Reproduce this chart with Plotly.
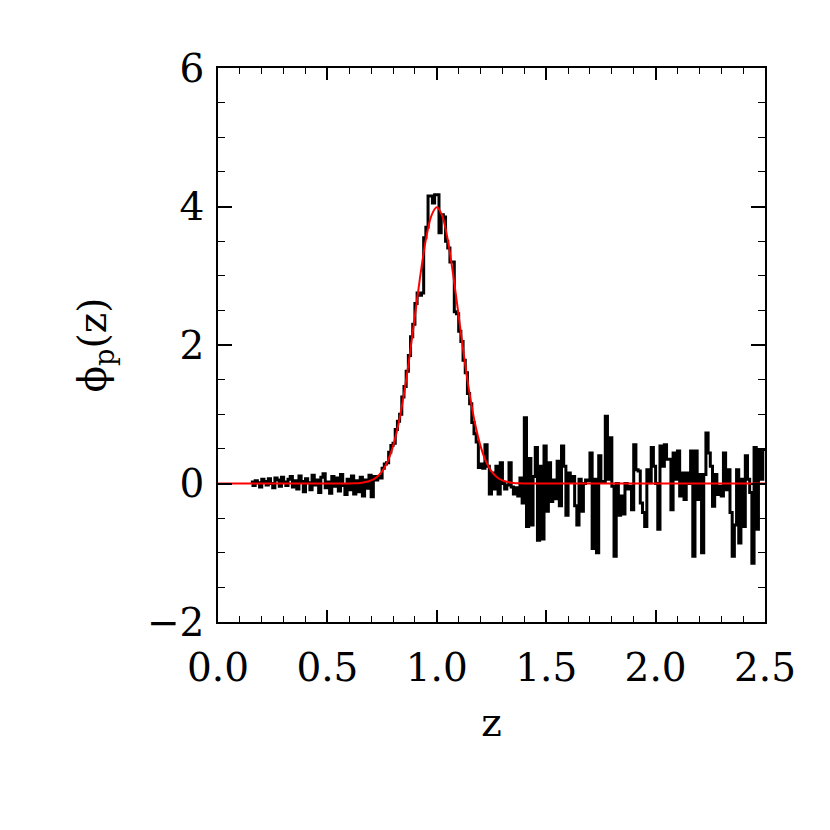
import numpy as np
import plotly.graph_objects as go

# histogram of phi_p(z): bins of width 0.01 starting at z = 0.15
BIN_START = 0.15
BIN_WIDTH = 0.01

# z = 0.15 ... 0.71 (flat, low-noise part)
phi_low = [
    0.02, -0.03, 0.04, 0.01, -0.05, 0.06, 0.03, -0.02, 0.07, 0.00,
    -0.06, 0.08, 0.05, -0.04, 0.09, 0.02, -0.03, 0.06, 0.10, -0.05,
    0.04, -0.08, 0.11, 0.03, -0.12, 0.07, 0.01, -0.09, 0.12, -0.02,
    0.05, -0.13, 0.09, 0.14, -0.06, 0.02, -0.14, 0.10, -0.04, 0.08,
    -0.11, 0.13, -0.03, -0.16, 0.06, -0.09, 0.11, -0.15, 0.04, -0.12,
    0.09, -0.18, 0.05, -0.07, 0.12, -0.19, 0.10,
]

# z = 0.72 ... 1.29 (peak)
phi_peak = [
    0.05, 0.10, 0.08, 0.22, 0.28, 0.30, 0.45, 0.55, 0.58, 0.78,
    0.90, 1.00, 1.25, 1.40, 1.62, 1.85, 2.12, 2.30, 2.60, 2.75,
    2.72, 2.75, 3.55, 3.70, 4.15, 4.15, 4.05, 4.17, 4.17, 3.62,
    3.88, 3.85, 3.50, 3.40, 3.20, 3.20, 2.48, 2.45, 2.20, 2.05,
    1.78, 1.60, 1.30, 1.15, 0.88, 0.72, 0.60, 0.23, 0.28, 0.22,
    0.56, 0.25, -0.15, 0.15, -0.08, 0.25, -0.15, 0.30,
]

# z = 1.30 ... 2.49 (noisy tail)
phi_tail = [
    0.00, -0.08, -0.02, 0.30, -0.05, -0.15, -0.06, -0.18, 0.08, -0.28,
    0.95, -0.62, 0.36, -0.60, 0.10, 0.52, -0.82, 0.25, -0.80, 0.54,
    -0.40, 0.30, -0.26, 0.05, -0.22, 0.32, -0.32, 0.54, 0.25, -0.46,
    0.15, 0.02, 0.10, -0.32, -0.60, 0.06, -0.40, 0.00, 0.05, 0.04,
    0.44, -0.94, 0.06, -1.00, 0.40, 0.03, 0.03, 0.97, 0.06, 0.66,
    -0.04, -1.05, 0.00, -0.46, -0.18, -0.44, 0.00, -0.08, -0.04, -0.38,
    0.56, 0.20, 0.18, -0.28, -0.42, -0.62, 0.20, 0.01, 0.52, 0.25,
    0.00, -0.66, 0.54, 0.25, 0.56, 0.35, 0.35, -0.38, 0.44, 0.06,
    0.47, -0.18, 0.15, -0.23, 0.15, 0.00, 0.47, -1.05, 0.47, -0.23,
    0.13, -1.00, 0.13, 0.73, 0.44, 0.25, -0.33, 0.13, -0.16, -0.04,
    -0.18, 0.44, -0.09, 0.20, -0.42, -1.05, -0.60, 0.20, -0.86, 0.06,
    -0.62, 0.40, 0.06, -0.13, -1.15, 0.52, -0.66, 0.49, 0.06, 0.49,
]

# fitted model curve
model_z = [0.0, 0.6, 0.625, 0.65, 0.675, 0.7, 0.725, 0.75, 0.775, 0.8, 0.825,
           0.85, 0.875, 0.9, 0.925, 0.95, 0.975, 1.0, 1.025, 1.05, 1.075, 1.1,
           1.125, 1.15, 1.175, 1.2, 1.225, 1.25, 1.275, 1.3, 1.325, 1.35,
           1.375, 1.4, 2.5]
model_phi = [0.0, 0.0013, 0.0035, 0.0087, 0.0203, 0.0443, 0.0909, 0.175,
             0.317, 0.540, 0.863, 1.295, 1.826, 2.420, 3.011, 3.521, 3.866,
             3.989, 3.866, 3.521, 3.011, 2.420, 1.826, 1.295, 0.863, 0.540,
             0.317, 0.175, 0.0909, 0.0443, 0.0203, 0.0087, 0.0035, 0.0013, 0.0]

phi_hist = phi_low + phi_peak + phi_tail
edges = BIN_START + BIN_WIDTH * np.arange(len(phi_hist) + 1)

FONT = "DejaVu Serif"

fig = go.Figure()

# histogram as a step line
fig.add_trace(
    go.Scatter(
        x=edges,
        y=phi_hist + [phi_hist[-1]],
        mode="lines",
        line=dict(color="black", width=3, shape="hv"),
    )
)

# model
fig.add_trace(
    go.Scatter(
        x=model_z,
        y=model_phi,
        mode="lines",
        line=dict(color="red", width=2, shape="spline", smoothing=0.8),
    )
)

axis_common = dict(
    showgrid=False,
    zeroline=False,
    showline=True,
    linecolor="black",
    linewidth=1.5,
    mirror="ticks",
    ticks="inside",
    tickcolor="black",
    tickwidth=1.5,
    tickfont=dict(family=FONT, size=39, color="black"),
)

fig.update_xaxes(
    range=[0, 2.5],
    dtick=0.5,
    tick0=0,
    tickformat=".1f",
    ticklen=12,
    minor=dict(dtick=0.1, ticklen=6, tickwidth=1.2, tickcolor="black", ticks="inside"),
    ticklabelstandoff=10,
    title=dict(text="z", font=dict(family=FONT, size=39, color="black"), standoff=20),
    **axis_common,
)
fig.update_yaxes(
    range=[-2, 6],
    dtick=2,
    tick0=0,
    ticklen=14,
    minor=dict(dtick=0.5, ticklen=7, tickwidth=1.2, tickcolor="black", ticks="inside"),
    ticklabelstandoff=4,
    title=dict(text="ϕ<sub>p</sub>(z)", font=dict(family=FONT, size=39, color="black"), standoff=28),
    **axis_common,
)

fig.update_layout(
    width=830,
    height=830,
    margin=dict(l=210, r=73, t=60, b=216),
    plot_bgcolor="white",
    paper_bgcolor="white",
    showlegend=False,
)

fig.write_html("out.html")
